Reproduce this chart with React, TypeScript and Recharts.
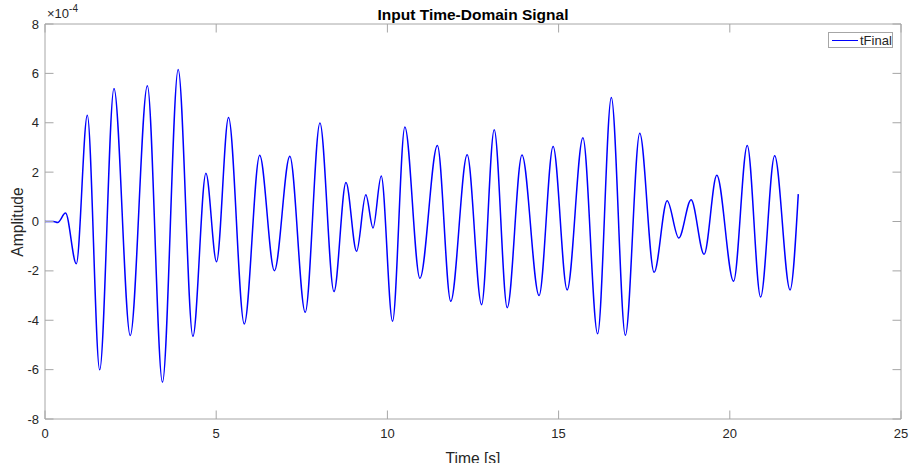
import React from 'react';
import { LineChart, Line, XAxis, YAxis, ReferenceArea } from 'recharts';

// Signal extrema (time in seconds, amplitude in units of 1e-4)
const TIME_S = [
  0, 0.25, 0.37, 0.6, 0.915, 1.236, 1.597, 2.015, 2.49, 2.99, 3.43, 3.89, 4.32, 4.7, 5.01, 5.36,
  5.82, 6.27, 6.7, 7.15, 7.6, 8.03, 8.44, 8.79, 9.1, 9.37, 9.58, 9.82, 10.15, 10.51, 10.95, 11.46,
  11.85, 12.33, 12.75, 13.12, 13.5, 13.93, 14.43, 14.84, 15.25, 15.71, 16.14, 16.54, 16.95, 17.37,
  17.79, 18.17, 18.51, 18.87, 19.25, 19.62, 20.11, 20.51, 20.9, 21.31, 21.76, 22.0,
];
const AMPLITUDE_E4 = [
  0, 0, -0.04, 0.34, -1.71, 4.3, -6.01, 5.39, -4.62, 5.5, -6.51, 6.16, -4.65, 1.95, -1.63, 4.21,
  -4.15, 2.68, -1.99, 2.64, -3.68, 3.99, -2.84, 1.58, -1.21, 1.08, -0.26, 1.84, -4.04, 3.83, -2.3, 3.08,
  -3.23, 2.7, -3.37, 3.72, -3.49, 2.69, -3.0, 3.04, -2.77, 3.39, -4.55, 5.02, -4.61, 3.57,
  -2.06, 0.84, -0.67, 0.88, -1.33, 1.87, -2.42, 3.08, -3.06, 2.66, -2.77, 1.11,
];
const X_TICKS = [0, 5, 10, 15, 20, 25];
const Y_TICKS = [-8, -6, -4, -2, 0, 2, 4, 6, 8];

const data = TIME_S.map((t, i) => ({ t, tFinal: AMPLITUDE_E4[i] }));

const W = 910;
const H = 463;
const LEFT = 45;
const RIGHT = 901;
const TOP = 24;
const BOTTOM = 419;
const TICK_LEN = 8.5;
const AXIS_GRAY = '#a6a6a6';
const TEXT = '#262626';
const FONT = '"Liberation Sans", Arial, Helvetica, sans-serif';

function YTick(props: any) {
  const { y, payload } = props;
  return (
    <g>
      <line x1={LEFT} x2={LEFT + TICK_LEN} y1={y} y2={y} stroke={AXIS_GRAY} />
      <line x1={RIGHT - TICK_LEN} x2={RIGHT} y1={y} y2={y} stroke={AXIS_GRAY} />
      <text x={39} y={y + 4.5} textAnchor="end" fontSize={13} fill={TEXT} fontFamily={FONT}>
        {payload.value}
      </text>
    </g>
  );
}

function XTick(props: any) {
  const { x, payload } = props;
  return (
    <g>
      <line x1={x} x2={x} y1={BOTTOM} y2={BOTTOM - TICK_LEN} stroke={AXIS_GRAY} />
      <line x1={x} x2={x} y1={TOP} y2={TOP + TICK_LEN} stroke={AXIS_GRAY} />
      <text x={x} y={438} textAnchor="middle" fontSize={13} fill={TEXT} fontFamily={FONT}>
        {payload.value}
      </text>
    </g>
  );
}

export default function App() {
  return (
    <div style={{ position: 'absolute', left: 0, top: 0, width: W, height: H, background: '#fff', overflow: 'hidden' }}>
      <LineChart
        width={W}
        height={H}
        data={data}
        margin={{ top: TOP, right: W - RIGHT, bottom: 0, left: 0 }}
      >
        <XAxis
          dataKey="t"
          type="number"
          domain={[0, 25]}
          ticks={X_TICKS}
          height={H - BOTTOM}
          axisLine={false}
          tickLine={false}
          tick={XTick}
          interval={0}
        />
        <YAxis
          type="number"
          domain={[-8, 8]}
          ticks={Y_TICKS}
          width={LEFT}
          axisLine={false}
          tickLine={false}
          tick={YTick}
          interval={0}
        />
        <ReferenceArea
          x1={0}
          x2={25}
          y1={-8}
          y2={8}
          fill="none"
          stroke={AXIS_GRAY}
          strokeWidth={1}
          ifOverflow="visible"
        />
        <Line
          type="monotone"
          dataKey="tFinal"
          stroke="#0000ff"
          strokeWidth={1.5}
          dot={false}
          activeDot={false}
          isAnimationActive={false}
        />
      </LineChart>

      {/* title, axis labels, exponent and legend */}
      <div
        style={{
          position: 'absolute', left: LEFT, width: RIGHT - LEFT, top: 6, textAlign: 'center',
          fontFamily: FONT, fontWeight: 'bold', fontSize: 15.5, color: '#000', lineHeight: '18px',
        }}
      >
        Input Time-Domain Signal
      </div>
      <div
        style={{
          position: 'absolute', left: 47, top: 5, fontFamily: FONT, fontSize: 13, color: TEXT,
          lineHeight: '17px', whiteSpace: 'nowrap',
        }}
      >
        ×10<sup style={{ fontSize: 10, position: 'relative', top: -1, verticalAlign: 'top', lineHeight: '10px' }}>-4</sup>
      </div>
      <div
        style={{
          position: 'absolute', left: LEFT, width: RIGHT - LEFT, top: 449.5, textAlign: 'center',
          fontFamily: FONT, fontSize: 15.6, color: TEXT, lineHeight: '18px', whiteSpace: 'nowrap',
        }}
      >
        Time [s]
      </div>
      <div
        style={{
          position: 'absolute', left: 17.5, top: (TOP + BOTTOM) / 2, fontFamily: FONT, fontSize: 15.6,
          color: TEXT, lineHeight: '18px', whiteSpace: 'nowrap',
          transform: 'translate(-50%, -50%) rotate(-90deg)',
        }}
      >
        Amplitude
      </div>
      <div
        style={{
          position: 'absolute', left: 828, top: 32, width: 65, height: 16, boxSizing: 'border-box',
          border: `1px solid ${AXIS_GRAY}`, background: '#fff', display: 'flex', alignItems: 'center',
          fontFamily: FONT, fontSize: 13, color: TEXT,
        }}
      >
        <span style={{ display: 'inline-block', width: 26, height: 0, borderTop: '1.5px solid #0000ff', marginLeft: 3, marginRight: 2 }} />
        tFinal
      </div>
    </div>
  );
}
